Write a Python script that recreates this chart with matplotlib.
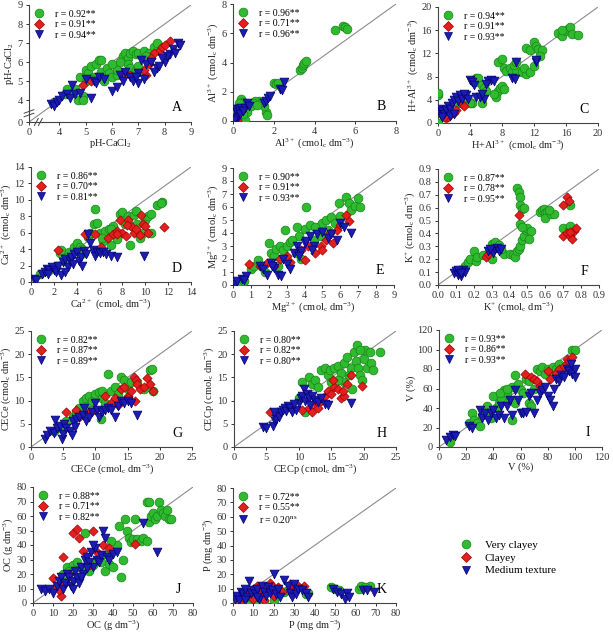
import numpy as np
import matplotlib
matplotlib.use("Agg")
import matplotlib.pyplot as plt
from matplotlib.lines import Line2D

plt.rcParams["font.family"] = ["Liberation Serif", "DejaVu Serif"]
plt.rcParams["mathtext.default"] = "regular"

# A: pH-CaCl2
A_vc = [(3.8,3.9),(4.2,4.3),(4.3,4.6),(4.5,4.4),(4.7,4.0),(4.9,4.2),(4.8,5.2),(5.0,5.6),(5.1,5.4),(5.2,5.8),
        (5.4,5.9),(5.5,6.1),(5.6,6.1),(5.3,5.2),(5.6,5.5),(5.8,5.7),(5.9,5.4),(6.0,5.2),(6.2,5.3),(6.4,6.3),
        (6.5,6.5),(6.6,6.2),(6.7,6.5),(6.8,6.6),(6.9,6.4),(7.0,6.5),(6.6,5.9),(6.7,5.7),(6.9,5.6),(7.0,5.5),
        (7.2,6.6),(7.4,6.5),(7.6,6.8),(7.7,7.0),(6.3,6.0),(6.2,5.6),(5.7,5.0),(4.9,4.0),(4.6,4.6),(5.0,5.0),
        (5.2,5.1),(6.0,5.9),(7.0,5.8),(7.3,6.3)]
A_c = [(4.9,4.8),(5.2,5.0),(6.4,5.4),(7.3,5.3),(7.2,5.6),(7.8,6.6),(7.9,6.8),(8.2,7.1),(8.0,6.9),(7.6,6.5),
       (7.4,5.9),(6.7,5.3),(7.5,6.2)]
A_mt = [(3.7,3.8),(3.8,3.7),(3.9,3.9),(4.0,4.0),(4.1,4.2),(4.3,4.3),(4.4,4.1),(4.5,4.8),(4.6,4.3),(4.8,4.4),
        (5.2,4.1),(5.3,5.0),(5.4,4.9),(5.5,5.2),(5.7,5.1),(6.0,4.5),(6.2,4.7),(6.3,5.3),(6.5,5.5),(6.7,5.2),
        (6.8,5.0),(7.0,4.9),(7.2,5.1),(7.3,5.9),(7.1,6.1),(7.5,6.0),(7.7,5.7),(7.8,5.8),(8.0,6.0),(8.2,6.4),
        (8.3,6.7),(8.4,6.5),(8.5,7.0),(8.6,6.9),(8.1,6.3),(7.9,6.2),(7.6,5.5),(7.0,5.4),(6.4,5.0),(5.0,5.1),(6.9,5.2)]
# B: Al3+
B_vc = [(5.0,6.2),(5.4,6.5),(5.5,6.4),(5.6,6.3),(3.3,3.5),(3.4,3.6),(3.45,3.8),(3.5,4.0),(3.6,4.1),(2.0,2.6),
        (2.1,2.5),(2.2,2.6),(1.6,0.6),(1.65,0.4),(1.5,1.0),(1.3,1.4),(1.1,1.4),(1.0,1.2),(0.9,1.0),(0.4,1.5),
        (0.5,1.3),(0.3,1.2),(0.2,0.9),(0.1,0.7),(0.4,0.0),(0.6,0.1),(0.3,0.4),(0.15,0.2),(1.4,1.3),(0.7,0.6),
        (0.5,0.5),(1.2,1.1)]
B_c = [(0.05,0.05),(0.1,0.0),(0.2,0.1)]
B_mt = [(0.1,0.8),(0.2,0.6),(0.3,0.8),(0.25,0.3),(0.15,0.2),(0.4,0.9),(0.6,0.9),(0.7,1.2),(0.8,1.0),(1.5,1.2),
        (1.6,1.4),(1.7,1.6),(1.8,1.7),(2.3,2.2),(2.4,2.1),(2.5,2.7),(0.05,0.1),(0.35,0.5),(0.5,0.7)]
# C: H+Al3+
C_vc = [(0,0),(0,4.8),(0,5.2),(4.2,3.4),(5.5,3.4),(4.6,7.0),(4.8,7.8),(5.0,7.8),(5.5,6.5),(5.8,6.0),(6.0,5.5),
        (7.2,4.5),(7.5,5.5),(7.8,6.0),(8.0,6.3),(8.3,5.8),(7.5,10.5),(8.0,11.0),(8.2,9.5),(8.5,9.0),(9.0,9.5),
        (9.3,8.8),(9.8,9.2),(9.5,10.0),(10.5,8.8),(11.0,8.5),(10.8,9.5),(11.5,8.8),(11.0,13.0),(11.5,12.5),
        (12.0,14.0),(12.2,13.2),(12.5,12.8),(13.0,12.5),(12.8,11.5),(15.0,15.5),(15.5,15.0),(16.0,15.8),
        (16.3,16.2),(16.5,16.5),(16.8,15.3),(17.5,15.2),(15.5,16.0),(2.5,3.5),(3.0,4.2),(9.8,10.5),(12.0,9.8),
        (7.0,5.0),(4.0,3.5)]
C_c = [(1.0,0.9),(1.2,1.0),(2.0,1.8),(2.3,2.2),(3.0,3.3),(3.2,3.0),(0.8,1.1)]
C_mt = [(0.2,1.5),(0.3,2.5),(0.5,2.0),(0.7,1.5),(1.0,2.2),(1.2,3.0),(1.5,2.5),(1.8,3.5),(2.0,4.0),(2.3,4.5),
        (2.5,3.8),(2.8,4.8),(3.0,4.2),(3.5,4.8),(3.2,5.0),(4.0,7.5),(4.2,7.0),(4.5,6.5),(4.8,4.5),(5.2,4.5),
        (5.8,4.2),(6.3,7.2),(6.6,7.4),(7.0,7.2),(6.0,6.8),(9.2,7.8),(9.6,7.6),(9.8,10.5),(12.2,10.5),(12.3,10.8),
        (1.5,1.2),(2.0,1.5),(0.5,1.0),(3.8,4.2),(5.5,5.0)]
# D: Ca2+
D_vc = [(0.8,1.0),(1.5,1.3),(2.2,2.0),(2.5,3.5),(2.6,3.9),(3.0,2.5),(3.3,3.6),(3.8,4.2),(4.0,4.8),(4.3,4.3),
        (4.6,3.5),(5.0,5.5),(5.2,6.0),(5.5,7.0),(5.6,8.9),(5.8,7.2),(6.0,6.0),(6.3,5.0),(6.5,6.2),(6.8,6.5),
        (7.0,4.5),(7.2,6.8),(7.5,5.2),(7.8,8.3),(8.0,8.5),(8.2,7.0),(8.5,8.0),(8.7,4.5),(8.8,6.8),(9.0,8.2),
        (9.2,8.7),(9.5,5.3),(9.8,6.0),(10.0,7.5),(10.2,8.0),(10.5,8.3),(10.5,6.0),(11.0,9.4),(11.5,9.7),
        (11.4,9.6),(9.3,7.0),(7.0,6.5),(4.5,4.0),(6.2,5.3)]
D_c = [(2.4,3.9),(4.7,5.8),(5.6,5.8),(6.1,4.2),(6.7,5.4),(7.2,5.8),(7.5,6.2),(7.8,7.6),(8.0,6.0),(8.3,5.6),
       (8.5,7.5),(8.8,6.7),(9.0,6.0),(9.2,6.5),(9.5,5.7),(9.6,8.2),(9.8,7.0),(10.0,6.8),(10.2,6.0),(11.6,6.7),
       (8.4,6.9),(7.5,5.9)]
D_mt = [(0.3,0.4),(0.4,0.3),(1.0,1.0),(1.2,1.2),(1.4,1.6),(1.6,1.4),(1.8,1.8),(2.0,1.5),(2.2,1.2),(2.4,1.9),
        (2.6,0.8),(2.8,2.4),(3.0,2.8),(3.2,1.8),(3.4,2.6),(3.5,3.0),(3.7,2.2),(3.8,3.4),(4.0,3.6),(4.2,2.5),
        (4.4,3.0),(4.6,3.8),(4.8,3.4),(5.0,5.9),(5.2,4.8),(5.4,3.9),(5.6,3.2),(5.8,3.6),(6.0,3.5),(6.3,3.6),
        (6.6,3.4),(7.0,3.2),(7.5,3.0),(9.9,3.2),(1.5,1.0),(3.0,1.2),(4.5,2.0)]
# E: Mg2+
E_vc = [(0.3,0.0),(0.6,0.3),(1.0,1.2),(1.2,1.5),(1.4,1.9),(2.0,3.2),(2.1,2.5),(2.3,2.2),(2.4,2.8),(2.6,3.0),
        (2.8,2.7),(2.9,4.2),(3.0,3.0),(3.2,3.3),(3.5,2.5),(3.6,4.5),(3.7,3.8),(3.8,2.0),(4.0,4.3),(4.1,6.0),
        (4.3,4.6),(4.5,3.5),(4.7,4.4),(4.9,3.8),(5.0,4.8),(5.2,5.0),(5.3,4.2),(5.5,5.2),(5.7,4.8),(5.9,6.3),
        (6.0,5.3),(6.3,6.8),(6.5,6.3),(6.6,5.8),(6.8,6.1),(7.0,6.7),(7.1,6.0),(2.5,1.5),(3.3,3.5),(4.6,4.5),(1.8,1.0)]
E_c = [(0.9,1.6),(1.5,1.5),(1.9,1.7),(2.3,1.5),(2.6,2.0),(3.0,2.2),(3.2,1.8),(3.8,2.7),(4.2,3.0),(4.6,2.5),
       (4.9,3.0),(5.0,2.7),(5.2,3.5),(5.4,4.0),(5.6,3.2),(5.8,4.2),(6.0,4.6),(6.3,5.4),(6.5,4.9),(4.0,1.9)]
E_mt = [(0.1,0.1),(0.2,0.3),(0.5,0.5),(0.7,0.7),(0.6,0.4),(1.5,1.5),(1.7,1.2),(1.9,0.8),(2.1,1.7),(2.3,1.3),
        (2.5,0.8),(2.7,0.7),(2.8,2.0),(3.0,1.6),(3.2,1.2),(3.4,2.5),(3.6,3.0),(3.8,2.6),(4.0,3.2),(4.1,3.4),
        (4.3,3.8),(4.5,3.0),(4.7,3.9),(5.0,4.1),(5.3,3.6),(5.5,3.9),(5.8,3.5),(6.0,4.8),(6.2,4.5),(6.6,4.0),
        (3.7,2.2),(4.4,2.7),(2.2,1.5)]
# F: K+
F_vc = [(0.15,0.15),(0.17,0.18),(0.18,0.2),(0.2,0.26),(0.21,0.19),(0.22,0.22),(0.3,0.2),(0.3,0.32),(0.32,0.33),
        (0.34,0.31),(0.37,0.24),(0.40,0.24),(0.42,0.23),(0.43,0.22),(0.44,0.26),(0.45,0.28),(0.46,0.3),
        (0.47,0.35),(0.48,0.38),(0.49,0.43),(0.50,0.44),(0.52,0.42),(0.51,0.36),(0.44,0.75),(0.45,0.72),
        (0.46,0.68),(0.46,0.62),(0.47,0.59),(0.48,0.6),(0.46,0.47),(0.47,0.45),(0.57,0.57),(0.58,0.58),
        (0.59,0.59),(0.6,0.56),(0.61,0.57),(0.6,0.52),(0.63,0.55),(0.65,0.55),(0.62,0.58),(0.70,0.44),
        (0.73,0.43),(0.74,0.46),(0.74,0.62),(0.25,0.23),(0.35,0.28)]
F_c = [(0.27,0.22),(0.28,0.24),(0.45,0.54),(0.70,0.62),(0.72,0.68),(0.73,0.65),(0.70,0.38),(0.72,0.40),
       (0.74,0.38),(0.75,0.36),(0.76,0.42),(0.77,0.44),(0.74,0.41)]
F_mt = [(0.09,0.09),(0.10,0.11),(0.11,0.08),(0.12,0.1),(0.13,0.07),(0.14,0.12),(0.15,0.1),(0.11,0.12),
        (0.13,0.09),(0.28,0.26),(0.30,0.27),(0.31,0.25),(0.32,0.28),(0.33,0.29),(0.34,0.26),(0.35,0.28),(0.29,0.28)]
# G: CECe
G_vc = [(3.5,3.5),(4.5,4.0),(5.5,5.5),(6.5,6.5),(7.0,7.5),(7.5,8.5),(8.0,10.0),(8.5,10.5),(9.0,11.0),(9.5,10.0),
        (10.0,11.5),(10.5,11.8),(11.0,10.5),(11.5,9.5),(12.0,15.7),(12.5,12.0),(13.0,13.0),(13.5,11.5),
        (14.0,15.0),(14.5,14.5),(15.0,12.5),(15.5,14.0),(16.5,14.0),(17.5,12.5),(18.5,16.5),(18.8,16.8),
        (19.0,12.0),(10.8,6.0),(9.2,8.0),(12.2,9.0),(7.8,6.8),(11.0,12.0)]
G_c = [(5.5,7.5),(7.0,8.0),(7.5,6.5),(9.0,7.5),(10.0,8.0),(11.5,11.0),(12.5,9.5),(13.0,10.5),(13.5,9.0),
       (14.0,12.5),(14.5,13.0),(15.0,11.0),(15.5,12.0),(16.0,15.0),(16.3,14.5),(16.5,13.5),(17.0,12.5),
       (17.5,13.0),(18.0,14.8),(18.5,13.5),(19.0,12.0),(16.2,10.0),(15.0,10.5)]
G_mt = [(2.2,1.8),(2.5,2.5),(3.0,3.5),(3.5,3.0),(3.8,5.8),(4.0,4.0),(4.5,4.5),(4.8,1.8),(5.0,2.8),(5.2,5.0),
        (5.5,4.0),(6.0,3.5),(6.3,2.5),(6.5,5.5),(7.0,6.0),(7.5,6.5),(8.0,7.0),(8.5,5.5),(9.0,6.5),(9.5,7.5),
        (10.0,9.5),(10.3,8.0),(10.5,6.5),(11.0,7.5),(11.5,8.0),(12.0,8.5),(12.5,8.0),(13.0,6.5),(13.5,8.8),
        (14.0,10.0),(14.5,9.5),(15.0,10.0),(15.5,9.5),(16.5,7.0),(8.3,8.5),(6.8,4.3)]
# H: CECp
H_vc = [(10.0,10.5),(10.5,14.0),(11.0,7.5),(11.5,15.0),(12.0,13.5),(12.5,14.5),(13.0,13.0),(13.5,16.5),
        (14.0,17.0),(14.5,15.5),(14.8,16.5),(15.0,14.0),(15.5,17.0),(16.0,17.5),(16.5,16.0),(17.0,18.0),
        (17.0,14.0),(17.5,19.5),(17.8,15.5),(18.0,17.0),(18.2,12.5),(18.5,20.5),(18.8,18.5),(19.0,22.0),
        (19.2,17.0),(19.5,15.5),(19.8,14.5),(20.0,19.0),(20.2,21.0),(20.5,17.0),(21.0,20.5),(21.2,18.0),
        (21.5,16.5),(22.5,20.5),(16.0,14.5),(19.5,21.0)]
H_c = [(5.5,7.5),(10.5,8.0),(11.5,8.5),(12.0,7.5),(12.5,9.5),(13.5,10.0),(14.0,11.0),(14.5,12.0),(15.0,11.5),
       (15.5,13.0),(16.0,12.5),(16.5,10.5),(17.0,11.0),(17.5,13.5),(18.0,15.5),(19.8,13.2),(15.3,14.5),
       (16.8,12.0),(13.0,8.5)]
H_mt = [(4.5,4.3),(5.0,4.1),(6.0,4.5),(6.3,5.5),(6.5,6.0),(6.8,7.0),(7.0,6.5),(7.3,7.5),(7.5,8.0),(7.8,8.5),
        (8.0,7.8),(8.3,8.8),(8.6,8.5),(9.0,7.5),(9.5,8.0),(10.0,9.5),(10.3,10.5),(10.5,11.0),(10.8,12.5),
        (11.0,10.0),(11.3,11.5),(11.5,10.5),(11.8,9.0),(12.0,11.0),(12.5,10.2),(13.0,9.8),(13.5,10.5),
        (14.0,9.2),(14.5,9.0),(18.0,9.5),(6.2,7.5),(9.2,9.3)]
# I: V (%)
I_vc = [(8,5),(22,25),(24,35),(26,28),(28,25),(30,22),(32,33),(34,38),(36,35),(38,30),(40,52),(42,40),(44,45),
        (46,50),(48,58),(50,55),(52,48),(54,62),(54,28),(56,74),(58,65),(60,58),(62,55),(64,70),(66,68),(66,45),
        (68,42),(70,60),(72,80),(74,78),(76,82),(78,75),(80,80),(82,78),(84,82),(86,80),(88,85),(90,75),(98,100),
        (100,99),(45,55),(50,60),(35,42),(56,45)]
I_c = [(63,75),(68,72),(70,70),(72,68),(74,63),(76,62),(80,78),(86,76),(88,80),(92,83),(94,90),(96,88),(98,92),(82,70)]
I_mt = [(5,7),(8,10),(10,12),(12,11),(22,22),(24,20),(30,38),(32,30),(34,35),(36,28),(38,35),(40,38),(42,30),
        (44,33),(46,42),(48,30),(50,42),(52,48),(54,33),(56,58),(58,48),(60,35),(62,35),(64,36),(66,52),(68,55),
        (70,35),(72,48),(74,55),(76,58),(78,62),(80,52),(82,48),(84,42),(86,70),(88,68),(90,74),(92,72),(94,80),
        (96,78),(98,75),(100,80),(100,72),(97,85),(85,60)]
# J: OC
J_vc = [(12,12),(15,20),(17,25),(18,22),(20,26),(22,28),(24,24),(26,48),(28,22),(30,26),(32,30),(34,33),(36,22),
        (38,27),(40,25),(42,40),(43,53),(44,18),(45,30),(46,58),(47,50),(48,45),(49,42),(50,44),(51,58),(52,44),
        (54,43),(55,45),(57,43),(57,70),(58,70),(58,56),(59,60),(60,62),(61,58),(62,60),(63,70),(64,64),(65,62),
        (66,60),(67,64),(68,58),(69,58),(38,34),(34,28),(39,43)]
J_c = [(10,17),(12,11),(14,5),(15,32),(18,20),(20,48),(22,51),(23,45),(25,36),(28,26),(30,50),(32,35),(35,40),
       (38,38),(51,41),(13,9),(16,14)]
J_mt = [(4,10),(6,8),(8,10),(10,7),(12,12),(13,15),(14,18),(15,10),(16,14),(17,20),(18,18),(19,12),(20,15),
        (21,22),(22,17),(23,14),(24,25),(25,20),(26,30),(27,32),(28,28),(29,35),(30,25),(31,38),(32,30),(33,28),
        (34,33),(35,50),(36,45),(37,32),(38,30),(40,34),(42,35),(55,55),(62,35),(27,24),(30,40),(24,18),(20,10)]
# K: P
K_vc = [(2,2),(3,1),(4,3),(5,2),(6,0.5),(8,1),(10,3),(12,2),(25,8),(27,9),(36,6),(37,7),(48,11),(50,10),(52,9),
        (62,10),(63,12),(67,12),(65,11),(15,1),(20,2)]
K_c = [(3,1),(5,5),(8,8),(10,10),(12,12),(14,6),(15,2),(16,9),(18,14),(19,12),(20,5),(22,11),(24,8),(28,13),
       (30,10),(32,12),(35,12),(10,3),(13,11)]
K_mt = [(1,3),(2,5),(3,2),(4,8),(5,6),(6,10),(7,4),(8,15),(9,7),(10,9),(11,6),(12,10),(13,3),(14,12),(15,8),
        (16,5),(17,11),(18,7),(19,9),(20,20),(21,6),(22,10),(23,4),(25,16),(27,12),(28,7),(29,4),(30,13),(31,6),
        (32,10),(34,9),(36,7),(37,4),(49,10),(51,8),(53,6),(55,3),(56,7),(57,4),(64,9),(66,9),(69,8),(6,2),(12,4)]

r_labels = {
    "A": ["0.92**", "0.91**", "0.94**"], "B": ["0.96**", "0.71**", "0.96**"],
    "C": ["0.94**", "0.91**", "0.93**"], "D": ["0.86**", "0.70**", "0.81**"],
    "E": ["0.90**", "0.91**", "0.93**"], "F": ["0.87**", "0.78**", "0.95**"],
    "G": ["0.82**", "0.87**", "0.89**"], "H": ["0.80**", "0.82**", "0.80**"],
    "I": ["0.93**", "0.86**", "0.93**"], "J": ["0.88**", "0.71**", "0.82**"],
    "K": ["0.72**", "0.55**", "0.20$^{ns}$"],
}
cmol = " (cmol$_c$ dm$^{-3}$)"
axis_labels = {
    "A": "pH-CaCl$_2$", "B": "Al$^{3+}$" + cmol, "C": "H+Al$^{3+}$" + cmol, "D": "Ca$^{2+}$" + cmol,
    "E": "Mg$^{2+}$" + cmol, "F": "K$^{+}$" + cmol, "G": "CECe" + cmol, "H": "CECp" + cmol,
    "I": "V (%)", "J": "OC (g dm$^{-3}$)", "K": "P (mg dm$^{-3}$)",
}
ticks = {
    "A": [4, 5, 6, 7, 8, 9], "B": [0, 2, 4, 6, 8], "C": [0, 4, 8, 12, 16, 20],
    "D": [0, 2, 4, 6, 8, 10, 12, 14], "E": list(range(10)),
    "F": [0.0, 0.1, 0.2, 0.3, 0.4, 0.5, 0.6, 0.7, 0.8, 0.9],
    "G": [0, 5, 10, 15, 20, 25], "H": [0, 5, 10, 15, 20, 25], "I": [0, 20, 40, 60, 80, 100, 120],
    "J": [0, 10, 20, 30, 40, 50, 60, 70, 80], "K": [0, 10, 20, 30, 40, 50, 60, 70, 80],
}
series = {
    "A": (A_vc, A_c, A_mt), "B": (B_vc, B_c, B_mt), "C": (C_vc, C_c, C_mt), "D": (D_vc, D_c, D_mt),
    "E": (E_vc, E_c, E_mt), "F": (F_vc, F_c, F_mt), "G": (G_vc, G_c, G_mt), "H": (H_vc, H_c, H_mt),
    "I": (I_vc, I_c, I_mt), "J": (J_vc, J_c, J_mt), "K": (K_vc, K_c, K_mt),
}
classes = ["Very clayey", "Clayey", "Medium texture"]

# ---- layout in pixels: left, right, top, bottom ----
W, H = 613, 633
rects = {
    "A": (29, 191, 5, 122), "B": (233, 396, 4, 121), "C": (438, 598, 7, 123),
    "D": (31, 191, 167, 282), "E": (233, 394, 168, 285), "F": (438, 599, 169, 285),
    "G": (31, 192, 331, 447), "H": (234, 396, 331, 447), "I": (439, 602, 330, 447),
    "J": (33, 193, 487, 603), "K": (233, 396, 488, 603),
}
styles = [
    dict(marker="o", s=40, c="#2fba2f", edgecolors="#178517", linewidths=0.5),
    dict(marker="D", s=22, c="#e32020", edgecolors="#a00000", linewidths=0.5),
    dict(marker="v", s=40, c="#1c1cb0", edgecolors="#000070", linewidths=0.5),
]

fig = plt.figure(figsize=(W / 100, H / 100), dpi=100)

for key, (l, r, t, b) in rects.items():
    ax = fig.add_axes([l / W, 1 - b / H, (r - l) / W, (b - t) / H])
    tk = ticks[key]
    lo = 2.85 if key == "A" else tk[0]
    hi = tk[-1]
    ax.plot([lo, hi], [lo, hi], color="#8c8c8c", lw=0.8, zorder=1)
    for pts, st in zip(series[key], styles):
        xs, ys = zip(*pts)
        ax.scatter(xs, ys, zorder=3, **st)

    ax.set_xlim(lo, hi)
    ax.set_ylim(lo, hi)
    if key == "A":
        ax.set_xticks([lo] + tk)
        ax.set_yticks([lo] + tk)
        lbls = ["0"] + [str(v) for v in tk]
        ax.set_xticklabels(lbls)
        ax.set_yticklabels(lbls)
        # axis-break marks
        for xb in (0.045, 0.07):
            ax.plot([xb - 0.012, xb + 0.012], [-0.03, 0.03], transform=ax.transAxes,
                    color="#444444", lw=0.7, clip_on=False)
        for yb in (0.06, 0.09):
            ax.plot([-0.03, 0.03], [yb - 0.015, yb + 0.015], transform=ax.transAxes,
                    color="#444444", lw=0.7, clip_on=False)
    else:
        ax.set_xticks(tk)
        ax.set_yticks(tk)
        if key == "F":
            lbls = [f"{v:.1f}" for v in tk]
            ax.set_xticklabels(lbls)
            ax.set_yticklabels(lbls)

    for sp in ("top", "right"):
        ax.spines[sp].set_visible(False)
    for sp in ("left", "bottom"):
        ax.spines[sp].set_color("#444444")
        ax.spines[sp].set_linewidth(0.8)
    ax.tick_params(direction="out", length=2.5, width=0.7, labelsize=7.5, colors="#333333", pad=2)
    ax.set_xlabel(axis_labels[key], fontsize=7.5, labelpad=0, color="#222222")
    ax.set_ylabel(axis_labels[key], fontsize=7.5, labelpad=1, color="#222222")

    handles = [Line2D([], [], linestyle="none", marker=st["marker"], markersize=np.sqrt(st["s"]),
                      markerfacecolor=st["c"], markeredgecolor=st["edgecolors"], markeredgewidth=0.5)
               for st in styles]
    ax.legend(handles, ["r = " + v for v in r_labels[key]], loc="upper left", frameon=False,
              fontsize=7, handlelength=1.0, handletextpad=1.2, labelspacing=0.15,
              borderaxespad=0.2, borderpad=0.3)
    ax.text(0.91, 0.12, key, transform=ax.transAxes, fontsize=10, ha="center", va="center")

handles = [Line2D([], [], linestyle="none", marker=st["marker"], markersize=np.sqrt(st["s"]),
                  markerfacecolor=st["c"], markeredgecolor=st["edgecolors"], markeredgewidth=0.5)
           for st in styles]
fig.legend(handles, classes, loc="upper left", bbox_to_anchor=(455 / W, 1 - 535 / H), frameon=False,
           fontsize=8, handlelength=1.0, handletextpad=1.2, labelspacing=0.25, borderpad=0.0)

fig.savefig("out.png", dpi=100)
